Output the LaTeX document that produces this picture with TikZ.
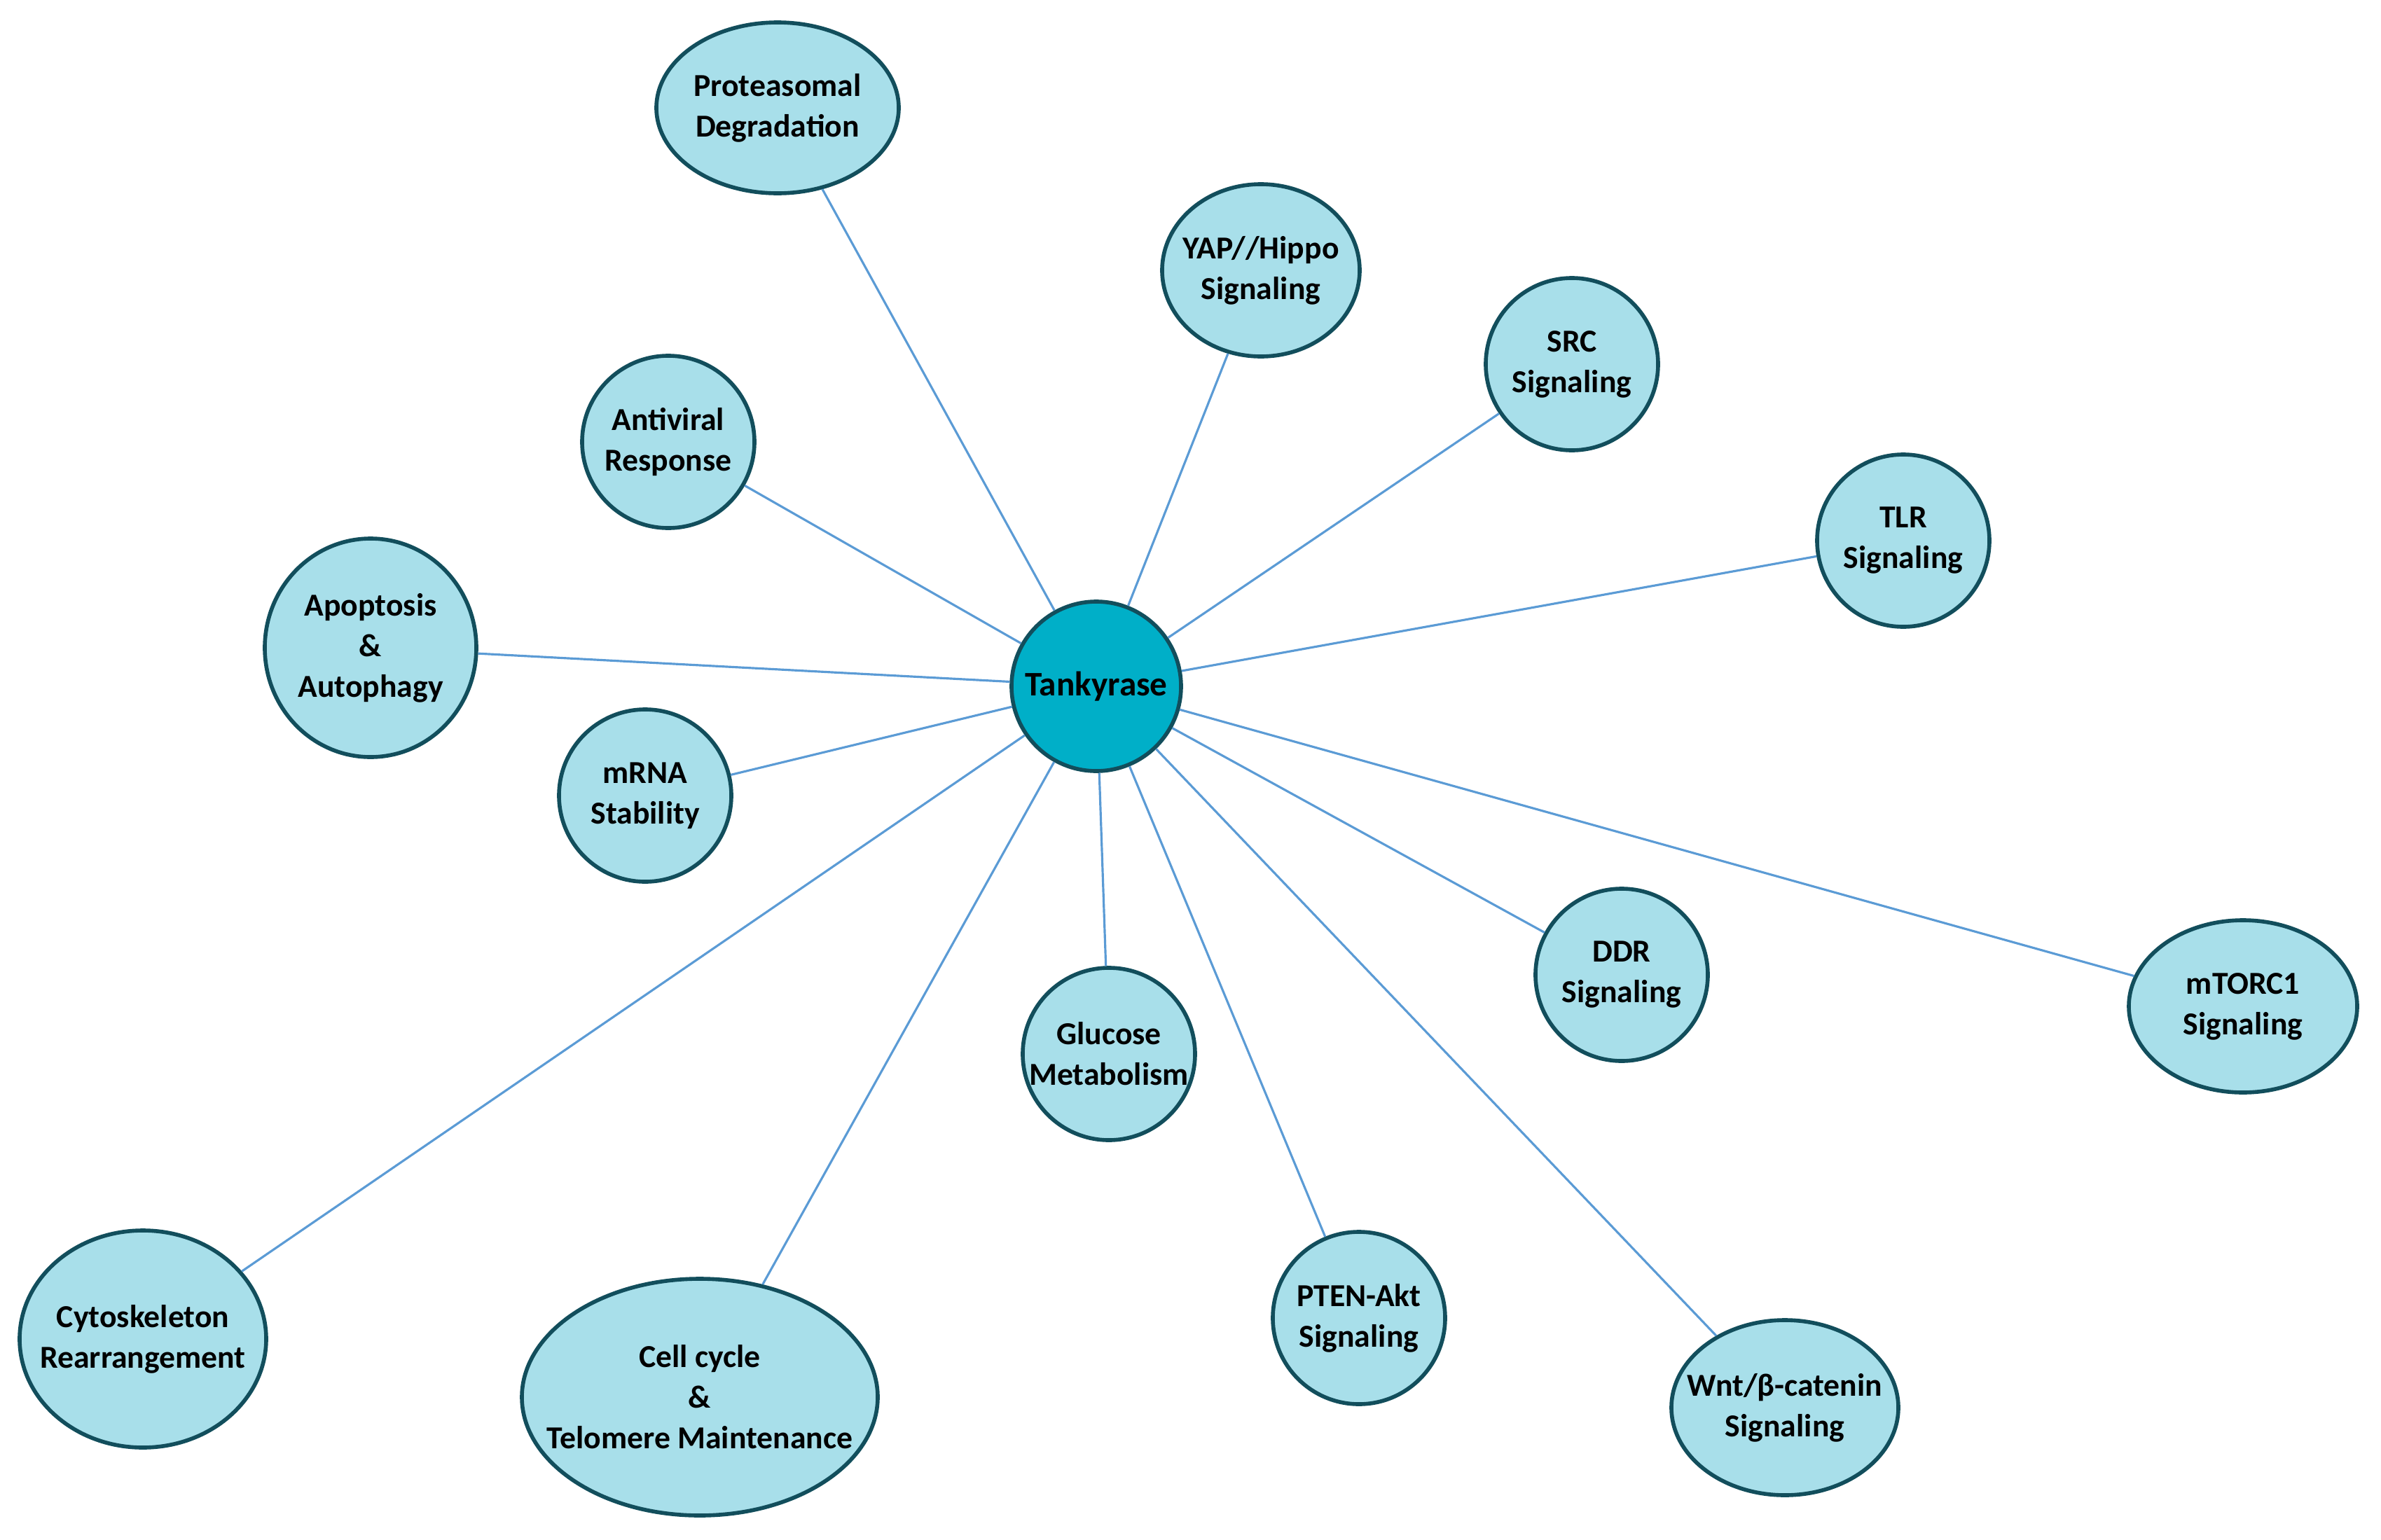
\documentclass[tikz,border=0pt]{standalone}
\usepackage{fontspec}
\setmainfont{Carlito}
\usetikzlibrary{shapes.geometric}

\definecolor{hubfill}{HTML}{00AFC8}
\definecolor{leaffill}{HTML}{A8DFEA}
\definecolor{rimcol}{HTML}{124E5C}
\definecolor{linkcol}{HTML}{5B9BD5}

\begin{document}
\begin{tikzpicture}[
  font=\fontsize{13}{16.5}\selectfont\bfseries,
  bub/.style={ellipse, draw=rimcol, line width=1.6pt, fill=leaffill,
              inner sep=0pt, minimum width=2.46cm, minimum height=2.46cm,
              label={[txt]center:#1}},
  txt/.style={align=center, inner sep=0pt},
  hub/.style={bub={#1}, fill=hubfill, minimum width=2.42cm, minimum height=2.42cm},
  link/.style={draw=linkcol, line width=0.9pt}
]
\useasboundingbox (0,0) rectangle (33.99,-21.99);

\node[hub={\fontsize{14}{17}\selectfont Tankyrase}] (tank) at (15.65,-9.80) {};

\node[bub={Proteasomal\\Degradation}, minimum width=3.46cm, minimum height=2.44cm] (prot) at (11.10,-1.54) {};
\node[bub={YAP//Hippo\\Signaling}, minimum width=2.82cm] (yap) at (18.00,-3.86) {};
\node[bub={SRC\\Signaling}] (src) at (22.44,-5.20) {};
\node[bub={Antiviral\\Response}] (anti) at (9.54,-6.31) {};
\node[bub={TLR\\Signaling}] (tlr) at (27.17,-7.72) {};
\node[bub={Apoptosis\\\&\\Autophagy}, minimum width=3.02cm, minimum height=3.12cm] (apop) at (5.29,-9.25) {};
\node[bub={mRNA\\Stability}] (mrna) at (9.21,-11.36) {};
\node[bub={Glucose\\Metabolism}] (gluc) at (15.83,-15.05) {};
\node[bub={DDR\\Signaling}] (ddr) at (23.15,-13.92) {};
\node[bub={mTORC1\\Signaling}, minimum width=3.26cm] (mtor) at (32.02,-14.37) {};
\node[bub={Cytoskeleton\\Rearrangement}, minimum width=3.52cm, minimum height=3.10cm] (cyto) at (2.04,-19.12) {};
\node[bub={Cell cycle\\\&\\Telomere Maintenance}, minimum width=5.08cm, minimum height=3.38cm] (cell) at (9.99,-19.95) {};
\node[bub={PTEN-Akt\\Signaling}] (pten) at (19.40,-18.82) {};
\node[bub={Wnt/β-catenin\\Signaling}, minimum width=3.24cm, minimum height=2.50cm] (wnt) at (25.48,-20.10) {};

\foreach \leaf in {prot,yap,src,anti,tlr,apop,mrna,gluc,ddr,mtor,cyto,cell,pten,wnt}
  \draw[link] (tank) -- (\leaf);
\end{tikzpicture}
\end{document}
